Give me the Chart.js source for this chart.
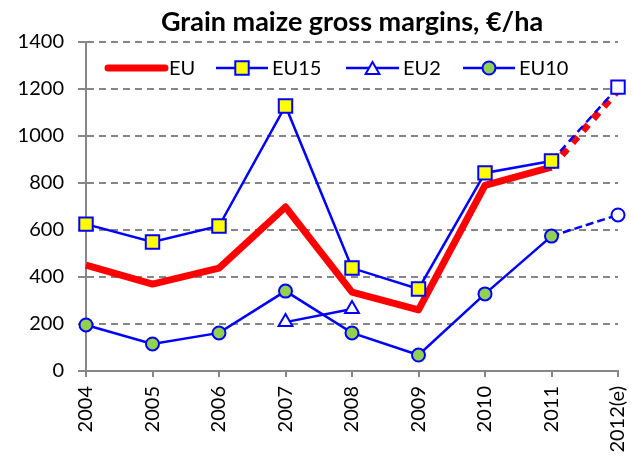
<!DOCTYPE html>
<html>
<head>
<meta charset="utf-8">
<title>Grain maize gross margins</title>
<script src="https://cdn.jsdelivr.net/npm/chart.js@4"></script>
<style>
  html, body { margin: 0; padding: 0; background: #fff; }
  canvas { display: block; }
</style>
</head>
<body>
<canvas id="chart" width="633" height="459"></canvas>
<script>
// Grain maize gross margins (EUR/ha), 2004-2012(e).
const YEARS = ["2004", "2005", "2006", "2007", "2008", "2009", "2010", "2011", "2012(e)"];
const EU = [451, 370, 438, 698, 336, 260, 790, 868, 1195];
const EU15 = [625, 549, 617, 1128, 438, 349, 843, 894, 1208];
const EU2 = [null, null, null, 208, 264, null, null, null, null];
const EU10 = [196, 115, 162, 340, 162, 68, 328, 574, 664];
const Y_MIN = 0;
const Y_MAX = 1400;
const Y_STEP = 200;

const TITLE = "Grain maize gross margins, €/ha";
const FONT = "Lato, 'Open Sans', 'DejaVu Sans', sans-serif";
const BLUE = "#0000FF";
const RED = "#FF0000";
const GRID = "#868686";
const YELLOW = "#FFFF00";
const GREEN = "#92D050";
const WHITE = "#FFFFFF";

// The last point (2012) is an estimate: dashed segment, hollow marker.
const LAST = YEARS.length - 1;
const dashLast = (pattern) => (ctx) => (ctx.p1DataIndex === LAST ? pattern : undefined);
const fillUpToLast = (color) => YEARS.map((_, i) => (i === LAST ? WHITE : color));

// Legend drawn inside the plot, like the Excel original: line + marker + label.
const LEGEND_Y = 68;
const LEGEND_X = [108, 216, 346, 463]; // line start per item
const LEGEND_LEN = [57, 52, 53, 52];

function drawMarker(ctx, style, x, y, r, fill, color, width) {
  ctx.beginPath();
  if (style === "rect") {
    const s = r * Math.SQRT1_2;
    ctx.rect(x - s, y - s, 2 * s, 2 * s);
  } else if (style === "triangle") {
    ctx.moveTo(x, y - r);
    ctx.lineTo(x + 0.866 * r, y + 0.5 * r);
    ctx.lineTo(x - 0.866 * r, y + 0.5 * r);
    ctx.closePath();
  } else {
    ctx.arc(x, y, r, 0, Math.PI * 2);
  }
  ctx.fillStyle = fill;
  ctx.fill();
  ctx.lineWidth = width;
  ctx.strokeStyle = color;
  ctx.stroke();
}

const insideLegend = {
  id: "insideLegend",
  afterDatasetsDraw(chart) {
    const ctx = chart.ctx;
    ctx.save();
    chart.data.datasets.forEach((ds, i) => {
      const x0 = LEGEND_X[i];
      const x1 = x0 + LEGEND_LEN[i];
      ctx.beginPath();
      ctx.setLineDash([]);
      ctx.lineCap = ds.pointRadius ? "butt" : "round";
      ctx.lineWidth = ds.borderWidth;
      ctx.strokeStyle = ds.borderColor;
      ctx.moveTo(x0, LEGEND_Y);
      ctx.lineTo(x1, LEGEND_Y);
      ctx.stroke();
      if (ds.pointRadius) {
        const fill = Array.isArray(ds.pointBackgroundColor) ? ds.pointBackgroundColor[0] : ds.pointBackgroundColor;
        drawMarker(ctx, ds.pointStyle, (x0 + x1) / 2, LEGEND_Y + (ds.pointStyle === "triangle" ? 2 : 0),
          ds.pointRadius, fill, ds.pointBorderColor, ds.pointBorderWidth);
      }
      ctx.fillStyle = "#000";
      ctx.font = "20px " + FONT;
      ctx.textAlign = "left";
      ctx.textBaseline = "middle";
      ctx.fillText(ds.label, x1 + 4, LEGEND_Y + 1);
    });
    ctx.restore();
  }
};

// Title centred over the plot area rather than the whole canvas.
const plotTitle = {
  id: "plotTitle",
  afterDraw(chart) {
    const { ctx, chartArea } = chart;
    ctx.save();
    ctx.fillStyle = "#000";
    ctx.font = "bold 27px " + FONT;
    ctx.textAlign = "center";
    ctx.textBaseline = "middle";
    ctx.fillText(TITLE, (chartArea.left + chartArea.right) / 2, 22);
    ctx.restore();
  }
};

const tickFont = { family: FONT, size: 20 };

new Chart(document.getElementById("chart"), {
  type: "line",
  data: {
    labels: YEARS,
    datasets: [
      {
        label: "EU",
        data: EU,
        borderColor: RED,
        borderWidth: 7,
        borderJoinStyle: "round",
        borderCapStyle: "butt",
        pointRadius: 0,
        segment: { borderDash: dashLast([8, 8]) },
        order: 4
      },
      {
        label: "EU15",
        data: EU15,
        borderColor: BLUE,
        borderWidth: 2.5,
        pointStyle: "rect",
        pointRadius: 9.5,
        pointBorderWidth: 2,
        pointBorderColor: BLUE,
        pointBackgroundColor: fillUpToLast(YELLOW),
        segment: { borderDash: dashLast([8, 5]) },
        order: 3
      },
      {
        label: "EU2",
        data: EU2,
        borderColor: BLUE,
        borderWidth: 2.5,
        pointStyle: "triangle",
        pointRadius: 8,
        pointBorderWidth: 2,
        pointBorderColor: BLUE,
        pointBackgroundColor: WHITE,
        spanGaps: false,
        order: 2
      },
      {
        label: "EU10",
        data: EU10,
        borderColor: BLUE,
        borderWidth: 2.5,
        pointStyle: "circle",
        pointRadius: 6.5,
        pointBorderWidth: 2,
        pointBorderColor: BLUE,
        pointBackgroundColor: fillUpToLast(GREEN),
        segment: { borderDash: dashLast([8, 4]) },
        order: 1
      }
    ]
  },
  options: {
    responsive: false,
    animation: false,
    events: [],
    clip: false,
    elements: { line: { tension: 0 } },
    layout: { padding: { top: 42, right: 15, left: 0, bottom: 0 } },
    plugins: {
      legend: { display: false },
      title: { display: false },
      tooltip: { enabled: false }
    },
    scales: {
      x: {
        offset: false,
        grid: { drawOnChartArea: false, drawTicks: true, tickLength: 6, color: GRID, lineWidth: 2 },
        border: { display: true, color: GRID, width: 2 },
        ticks: { color: "#000", font: tickFont, minRotation: 90, maxRotation: 90, autoSkip: false, padding: 9 },
        afterFit: (scale) => {
          scale.height = 88;
          scale.paddingLeft = 0;
          scale.paddingRight = 0;
        }
      },
      y: {
        min: Y_MIN,
        max: Y_MAX,
        grid: { color: GRID, lineWidth: 2, tickLength: 8 },
        border: { display: true, color: GRID, width: 2, dash: [7, 5] },
        ticks: { stepSize: Y_STEP, color: "#000", font: tickFont, padding: 14, callback: (v) => String(v) },
        afterFit: (scale) => { scale.width = 86; }
      }
    }
  },
  plugins: [insideLegend, plotTitle]
});
</script>
</body>
</html>
